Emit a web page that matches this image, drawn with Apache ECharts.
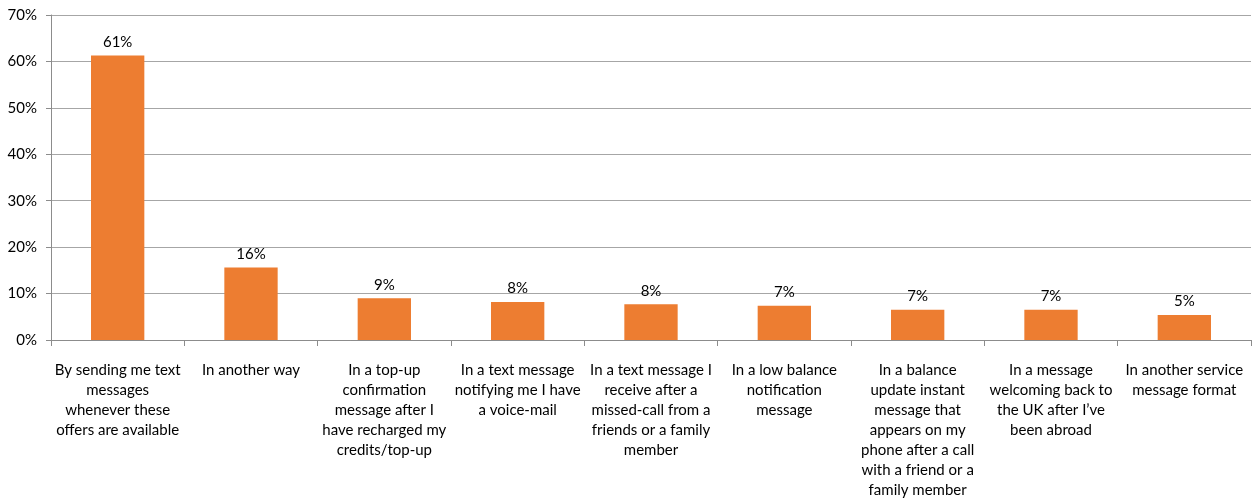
<!DOCTYPE html>
<html>
<head>
<meta charset="utf-8">
<script src="https://cdn.jsdelivr.net/npm/echarts@6/dist/echarts.min.js"></script>
<style>
  html, body { margin: 0; padding: 0; background: #fff; }
  #chart { width: 1253px; height: 500px; }
</style>
</head>
<body>
<div id="chart"></div>
<script>
// Response options, with line breaks as they wrap under each bar
const categories = [
  'By sending me text\nmessages\nwhenever these\noffers are available',
  'In another way',
  'In a top-up\nconfirmation\nmessage after I\nhave recharged my\ncredits/top-up',
  'In a text message\nnotifying me I have\na voice-mail',
  'In a text message I\nreceive after a\nmissed-call from a\nfriends or a family\nmember',
  'In a low balance\nnotification\nmessage',
  'In a balance\nupdate instant\nmessage that\nappears on my\nphone after a call\nwith a friend or a\nfamily member',
  'In a message\nwelcoming back to\nthe UK after I\u2019ve\nbeen abroad',
  'In another service\nmessage format'
];

// Share of respondents (%)
const shares = [61.3, 15.6, 9.0, 8.2, 7.7, 7.4, 6.5, 6.5, 5.4];

// Value axis ticks
const yMin = 0;
const yMax = 70;
const yStep = 10;

const FONT = 'Lato, "Open Sans", sans-serif';

const chart = echarts.init(document.getElementById('chart'), null, { renderer: 'canvas' });

chart.setOption({
  animation: false,
  backgroundColor: '#ffffff',
  grid: { left: 51, right: 2, top: 15, bottom: 159, containLabel: false },
  xAxis: {
    type: 'category',
    data: categories,
    boundaryGap: true,
    axisLine: { show: true, lineStyle: { color: '#8c8c8c', width: 1 } },
    axisTick: { show: true, alignWithLabel: false, length: 6, lineStyle: { color: '#8c8c8c' } },
    axisLabel: {
      interval: 0,
      margin: 20,
      color: '#000',
      fontFamily: FONT,
      fontSize: 15,
      lineHeight: 20,
      align: 'center'
    },
    splitLine: { show: false }
  },
  yAxis: {
    type: 'value',
    min: yMin,
    max: yMax,
    interval: yStep,
    axisLine: { show: true, lineStyle: { color: '#8c8c8c', width: 1 } },
    axisTick: { show: true, length: 5, lineStyle: { color: '#8c8c8c' } },
    axisLabel: {
      margin: 14,
      color: '#000',
      fontFamily: FONT,
      fontSize: 15,
      formatter: v => v + '%'
    },
    splitLine: { show: true, lineStyle: { color: '#a6a6a6', width: 1 } }
  },
  series: [{
    type: 'bar',
    data: shares,
    barWidth: '40%',
    itemStyle: { color: '#ED7D31' },
    label: {
      show: true,
      position: 'top',
      distance: 6,
      color: '#000',
      fontFamily: FONT,
      fontSize: 15,
      formatter: p => Math.round(p.value) + '%'
    }
  }]
});
</script>
</body>
</html>
